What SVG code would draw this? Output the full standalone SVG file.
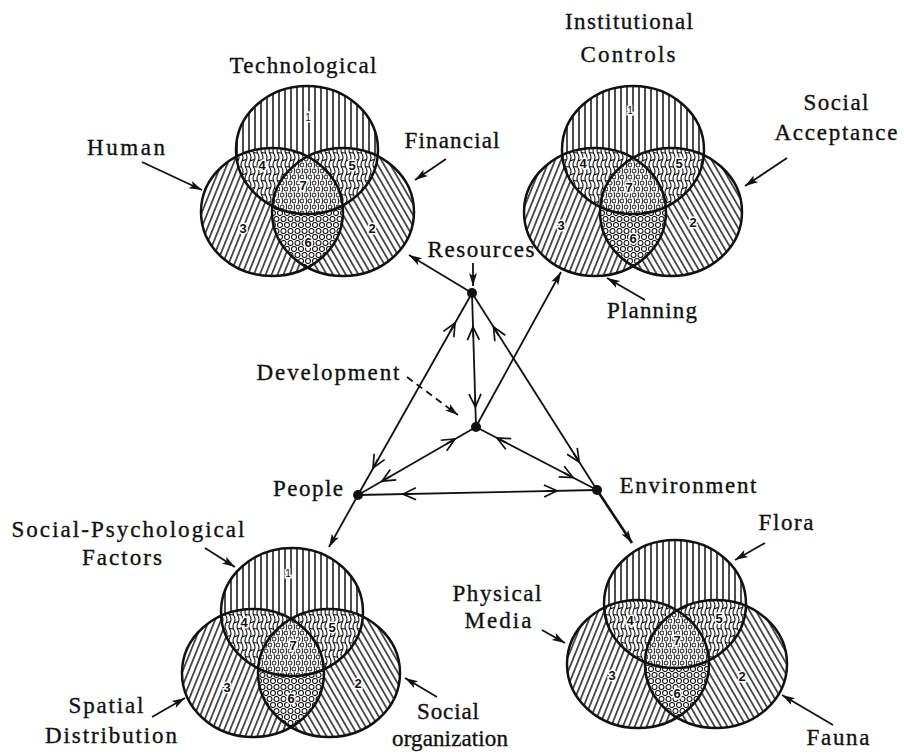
<svg xmlns="http://www.w3.org/2000/svg" width="904" height="754" viewBox="0 0 904 754">
<style>
.lbl{font-family:"Liberation Serif","DejaVu Serif",serif;font-size:23px;fill:#111;stroke:#111;stroke-width:0.35;text-anchor:middle}
.num{font-family:"Liberation Sans","DejaVu Sans",sans-serif;font-size:13px;font-weight:bold;fill:#111;text-anchor:middle;dominant-baseline:central;stroke:#fff;stroke-width:3;paint-order:stroke}
.num1{font-size:10px;font-weight:normal}
.ring{fill:none;stroke:#111;stroke-width:2.5}
.conn{fill:none;stroke:#111;stroke-width:1.8}
.thick{stroke-width:2.6}
.dash{stroke-dasharray:7 5}
.mid{marker-end:url(#v)}
.end{marker-end:url(#tip)}
.node{fill:#111}
</style>
<defs>
<marker id="v" viewBox="0 0 16 14" markerWidth="16" markerHeight="14" refX="14" refY="7" orient="auto" markerUnits="userSpaceOnUse">
<path d="M1,1 L14,7 L1,13" fill="none" stroke="#111" stroke-width="1.7"/>
</marker>
<marker id="tip" viewBox="0 0 14 10" markerWidth="14" markerHeight="10" refX="13" refY="5" orient="auto" markerUnits="userSpaceOnUse">
<path d="M0,1 L13,5 L0,9 L3,5 z" fill="#111"/>
</marker>
<pattern id="p1" width="6" height="8" patternUnits="userSpaceOnUse">
<rect width="6" height="8" fill="#fff"/><path d="M3,0V8" stroke="#111" stroke-width="1.5"/>
</pattern>
<pattern id="p3" width="5.5" height="8" patternUnits="userSpaceOnUse" patternTransform="rotate(22)">
<rect width="5.5" height="8" fill="#fff"/><path d="M2.7,0V8" stroke="#111" stroke-width="1.4"/>
</pattern>
<pattern id="p2" width="5.5" height="8" patternUnits="userSpaceOnUse" patternTransform="rotate(-30)">
<rect width="5.5" height="8" fill="#fff"/><path d="M2.7,0V8" stroke="#111" stroke-width="1.4"/>
</pattern>
<pattern id="pW" width="8" height="14" patternUnits="userSpaceOnUse">
<rect width="8" height="14" fill="#fff"/>
<path d="M2,0 Q4,3.5 2,7 Q0,10.5 2,14 M6,0 Q8,3.5 6,7 Q4,10.5 6,14 M2,7 L6,5.5 M6,12.5 L8,13 M0,13 L2,12.5" fill="none" stroke="#111" stroke-width="1.1"/>
</pattern>
<pattern id="pO" width="7" height="12" patternUnits="userSpaceOnUse">
<rect width="7" height="12" fill="#fff"/>
<circle cx="3.5" cy="3" r="2.5" fill="none" stroke="#111" stroke-width="1.1"/>
<circle cx="0" cy="9" r="2.5" fill="none" stroke="#111" stroke-width="1.1"/>
<circle cx="7" cy="9" r="2.5" fill="none" stroke="#111" stroke-width="1.1"/>
</pattern>
<pattern id="pM" width="8" height="12" patternUnits="userSpaceOnUse">
<rect width="8" height="12" fill="#fff"/>
<circle cx="2" cy="3" r="2" fill="none" stroke="#111" stroke-width="1"/>
<circle cx="6" cy="9" r="2" fill="none" stroke="#111" stroke-width="1"/>
<path d="M6,0 Q7.5,3 6,6 M2,6 Q3.5,9 2,12" fill="none" stroke="#111" stroke-width="1"/>
</pattern>
<clipPath id="tlA"><ellipse cx="307" cy="150" rx="71" ry="64"/></clipPath>
<clipPath id="tlB"><ellipse cx="272" cy="212" rx="71" ry="64"/></clipPath>
<clipPath id="trA"><ellipse cx="633" cy="150" rx="71" ry="64"/></clipPath>
<clipPath id="trB"><ellipse cx="595" cy="212" rx="71" ry="64"/></clipPath>
<clipPath id="blA"><ellipse cx="292" cy="612" rx="71" ry="64"/></clipPath>
<clipPath id="blB"><ellipse cx="253" cy="673" rx="71" ry="64"/></clipPath>
<clipPath id="brA"><ellipse cx="675" cy="604" rx="71" ry="64"/></clipPath>
<clipPath id="brB"><ellipse cx="638" cy="664" rx="71" ry="64"/></clipPath>
</defs>
<rect width="904" height="754" fill="#fff"/>

<!-- Venn: Resources -->
<g id="venn-resources">
<ellipse cx="272" cy="212" rx="71" ry="64" fill="url(#p3)"/>
<ellipse cx="343" cy="212" rx="71" ry="64" fill="url(#p2)"/>
<ellipse cx="307" cy="150" rx="71" ry="64" fill="url(#p1)"/>
<g clip-path="url(#tlA)"><ellipse cx="272" cy="212" rx="71" ry="64" fill="url(#pW)"/><ellipse cx="343" cy="212" rx="71" ry="64" fill="url(#pW)"/></g>
<g clip-path="url(#tlB)"><ellipse cx="343" cy="212" rx="71" ry="64" fill="url(#pO)"/></g>
<g clip-path="url(#tlA)"><g clip-path="url(#tlB)"><ellipse cx="343" cy="212" rx="71" ry="64" fill="url(#pM)"/></g></g>
<ellipse class="ring" cx="307" cy="150" rx="71" ry="64"/>
<ellipse class="ring" cx="272" cy="212" rx="71" ry="64"/>
<ellipse class="ring" cx="343" cy="212" rx="71" ry="64"/>
<text class="num num1" x="308" y="117">1</text>
<text class="num" x="262" y="165">4</text>
<text class="num" x="352" y="165">5</text>
<text class="num" x="303" y="185">7</text>
<text class="num" x="243" y="228">3</text>
<text class="num" x="308" y="242">6</text>
<text class="num" x="372" y="228">2</text>
<text class="lbl" x="303" y="73" textLength="147" lengthAdjust="spacing">Technological</text>
<text class="lbl" x="126" y="155" textLength="78" lengthAdjust="spacing">Human</text>
<text class="lbl" x="452" y="148" textLength="95" lengthAdjust="spacing">Financial</text>
</g>

<!-- Venn: Development (institutional) -->
<g id="venn-development">
<ellipse cx="595" cy="212" rx="71" ry="64" fill="url(#p3)"/>
<ellipse cx="671" cy="212" rx="71" ry="64" fill="url(#p2)"/>
<ellipse cx="633" cy="150" rx="71" ry="64" fill="url(#p1)"/>
<g clip-path="url(#trA)"><ellipse cx="595" cy="212" rx="71" ry="64" fill="url(#pW)"/><ellipse cx="671" cy="212" rx="71" ry="64" fill="url(#pW)"/></g>
<g clip-path="url(#trB)"><ellipse cx="671" cy="212" rx="71" ry="64" fill="url(#pO)"/></g>
<g clip-path="url(#trA)"><g clip-path="url(#trB)"><ellipse cx="671" cy="212" rx="71" ry="64" fill="url(#pM)"/></g></g>
<ellipse class="ring" cx="633" cy="150" rx="71" ry="64"/>
<ellipse class="ring" cx="595" cy="212" rx="71" ry="64"/>
<ellipse class="ring" cx="671" cy="212" rx="71" ry="64"/>
<text class="num num1" x="630" y="110">1</text>
<text class="num" x="583" y="163">4</text>
<text class="num" x="679" y="163">5</text>
<text class="num" x="629" y="187">7</text>
<text class="num" x="561" y="225">3</text>
<text class="num" x="633" y="238">6</text>
<text class="num" x="693" y="222">2</text>
<text class="lbl" x="629" y="29" textLength="128" lengthAdjust="spacing">Institutional</text>
<text class="lbl" x="628" y="62" textLength="95" lengthAdjust="spacing">Controls</text>
<text class="lbl" x="836" y="110" textLength="65" lengthAdjust="spacing">Social</text>
<text class="lbl" x="836" y="140" textLength="123" lengthAdjust="spacing">Acceptance</text>
<text class="lbl" x="652" y="318" textLength="90" lengthAdjust="spacing">Planning</text>
</g>

<!-- Venn: People -->
<g id="venn-people">
<ellipse cx="253" cy="673" rx="71" ry="64" fill="url(#p3)"/>
<ellipse cx="329" cy="673" rx="71" ry="64" fill="url(#p2)"/>
<ellipse cx="292" cy="612" rx="71" ry="64" fill="url(#p1)"/>
<g clip-path="url(#blA)"><ellipse cx="253" cy="673" rx="71" ry="64" fill="url(#pW)"/><ellipse cx="329" cy="673" rx="71" ry="64" fill="url(#pW)"/></g>
<g clip-path="url(#blB)"><ellipse cx="329" cy="673" rx="71" ry="64" fill="url(#pO)"/></g>
<g clip-path="url(#blA)"><g clip-path="url(#blB)"><ellipse cx="329" cy="673" rx="71" ry="64" fill="url(#pM)"/></g></g>
<ellipse class="ring" cx="292" cy="612" rx="71" ry="64"/>
<ellipse class="ring" cx="253" cy="673" rx="71" ry="64"/>
<ellipse class="ring" cx="329" cy="673" rx="71" ry="64"/>
<text class="num num1" x="288" y="573">1</text>
<text class="num" x="244" y="622">4</text>
<text class="num" x="332" y="627">5</text>
<text class="num" x="293" y="645">7</text>
<text class="num" x="227" y="687">3</text>
<text class="num" x="291" y="698">6</text>
<text class="num" x="358" y="683">2</text>
<text class="lbl" x="128" y="537" textLength="233" lengthAdjust="spacing">Social-Psychological</text>
<text class="lbl" x="122" y="565" textLength="80" lengthAdjust="spacing">Factors</text>
<text class="lbl" x="106" y="713" textLength="75" lengthAdjust="spacing">Spatial</text>
<text class="lbl" x="111" y="743" textLength="132" lengthAdjust="spacing">Distribution</text>
<text class="lbl" x="448" y="719" textLength="62" lengthAdjust="spacing">Social</text>
<text class="lbl" x="450" y="746" textLength="116" lengthAdjust="spacing">organization</text>
</g>

<!-- Venn: Environment -->
<g id="venn-environment">
<ellipse cx="638" cy="664" rx="71" ry="64" fill="url(#p3)"/>
<ellipse cx="716" cy="664" rx="71" ry="64" fill="url(#p2)"/>
<ellipse cx="675" cy="604" rx="71" ry="64" fill="url(#p1)"/>
<g clip-path="url(#brA)"><ellipse cx="638" cy="664" rx="71" ry="64" fill="url(#pW)"/><ellipse cx="716" cy="664" rx="71" ry="64" fill="url(#pW)"/></g>
<g clip-path="url(#brB)"><ellipse cx="716" cy="664" rx="71" ry="64" fill="url(#pO)"/></g>
<g clip-path="url(#brA)"><g clip-path="url(#brB)"><ellipse cx="716" cy="664" rx="71" ry="64" fill="url(#pM)"/></g></g>
<ellipse class="ring" cx="675" cy="604" rx="71" ry="64"/>
<ellipse class="ring" cx="638" cy="664" rx="71" ry="64"/>
<ellipse class="ring" cx="716" cy="664" rx="71" ry="64"/>
<text class="num" x="630" y="620">4</text>
<text class="num" x="719" y="618">5</text>
<text class="num" x="677" y="640">7</text>
<text class="num" x="612" y="675">3</text>
<text class="num" x="677" y="693">6</text>
<text class="num" x="742" y="676">2</text>
<text class="lbl" x="786" y="530" textLength="55" lengthAdjust="spacing">Flora</text>
<text class="lbl" x="497" y="601" textLength="89" lengthAdjust="spacing">Physical</text>
<text class="lbl" x="498" y="628" textLength="67" lengthAdjust="spacing">Media</text>
<text class="lbl" x="838" y="745" textLength="63" lengthAdjust="spacing">Fauna</text>
</g>

<!-- Central nodes -->
<g id="node-resources"><circle class="node" cx="472" cy="293" r="5"/><text class="lbl" x="481" y="257" textLength="107" lengthAdjust="spacing">Resources</text></g>
<g id="node-development"><circle class="node" cx="476" cy="427" r="5"/><text class="lbl" x="328" y="380" textLength="143" lengthAdjust="spacing">Development</text></g>
<g id="node-people"><circle class="node" cx="358" cy="495" r="5"/><text class="lbl" x="308" y="496" textLength="70" lengthAdjust="spacing">People</text></g>
<g id="node-environment"><circle class="node" cx="597" cy="490" r="5"/><text class="lbl" x="688" y="493" textLength="137" lengthAdjust="spacing">Environment</text></g>

<g id="connectors">
<path class="conn" d="M472,293 L358,495"/>
<path class="conn" d="M472,293 L597,490"/>
<path class="conn" d="M472,293 L476,427"/>
<path class="conn" d="M476,427 L358,495"/>
<path class="conn" d="M476,427 L597,490"/>
<path class="conn" d="M358,495 L597,490"/>
<path class="conn mid" d="M450.1,331.7 L455,323"/>
<path class="conn mid" d="M377.9,459.3 L373,468"/>
<path class="conn mid" d="M498.4,335.4 L493.6,327"/>
<path class="conn mid" d="M573.8,453.6 L579.2,462"/>
<path class="conn mid" d="M473.3,337 L473,327"/>
<path class="conn mid" d="M475.1,397 L475.4,407"/>
<path class="conn mid" d="M446.3,444 L455,439"/>
<path class="conn mid" d="M390.7,476.2 L382,481.2"/>
<path class="conn mid" d="M505.9,442.6 L497,438"/>
<path class="conn mid" d="M564.1,472.9 L573,477.5"/>
<path class="conn mid" d="M413,493.9 L403,494.1"/>
<path class="conn mid" d="M547,491 L557,490.8"/>
<path class="conn end" d="M472,293 L409,255"/>
<path class="conn end" d="M478,423 L561,272"/>
<path class="conn end" d="M358,495 L329,547"/>
<path class="conn thick end" d="M597,490 L632,543"/>
<path class="conn end" d="M142,162 L202,190"/>
<path class="conn end" d="M446,159 L415,180"/>
<path class="conn end" d="M787,158 L745,186"/>
<path class="conn end" d="M645,300 L607,278"/>
<path class="conn end" d="M205,548 L235,567"/>
<path class="conn end" d="M152,717 L185,698"/>
<path class="conn end" d="M437,697 L405,678"/>
<path class="conn end" d="M765,543 L735,560"/>
<path class="conn end" d="M542,630 L565,643"/>
<path class="conn end" d="M833,725 L782,695"/>
<path class="conn end" d="M473,263 L473,286"/>
<path class="conn dash end" d="M407,377 L458,415"/>
</g>
</svg>
